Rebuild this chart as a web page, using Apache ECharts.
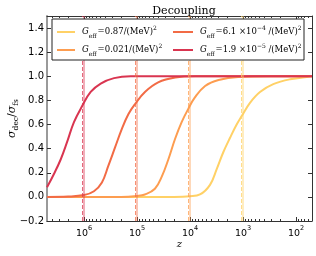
<!DOCTYPE html>
<html>
<head>
<meta charset="utf-8">
<script src="https://cdn.jsdelivr.net/npm/echarts@6/dist/echarts.min.js"></script>
<style>html,body{margin:0;padding:0;background:#fff}#c{width:316px;height:256px}</style>
</head>
<body>
<div id="c"></div>
<script>
// ---- data (z, sigma_dec/sigma_fs) ----
const seriesNames = ['G0.87', 'G0.021', 'G6.1e-4', 'G1.9e-5'];
const seriesColors = ['#ffd166', '#fd9d50', '#f26b45', '#d93550'];
const yellowData = [[5e6,0],[2e4,0],[1e4,0.005],[6.5e3,0.02],[4.2e3,0.10],[3.14e3,0.23],[2.36e3,0.37],[1.76e3,0.49],[1.32e3,0.60],[1.06e3,0.67],[740,0.78],[479,0.87],[269,0.935],[130,0.975],[55,0.998],[50,1.0]];
const orangeData = [[5e6,0],[2e5,0],[1e5,0.008],[7.1e4,0.02],[4.6e4,0.067],[3.4e4,0.17],[2.57e4,0.31],[1.92e4,0.48],[1.44e4,0.62],[1.08e4,0.73],[8.1e3,0.825],[5.2e3,0.92],[2.9e3,0.97],[1.23e3,0.995],[300,1.0],[50,1.0]];
const orangeRedData = [[5e6,0],[2e6,0.003],[1e6,0.015],[6.5e5,0.047],[4.6e5,0.12],[3.5e5,0.255],[2.6e5,0.41],[1.95e5,0.56],[1.46e5,0.685],[1.09e5,0.77],[7.1e4,0.87],[4.0e4,0.95],[1.9e4,0.99],[8e3,1.0],[50,1.0]];
const redData = [[5e6,0.08],[3.7e6,0.19],[2.76e6,0.31],[2.07e6,0.46],[1.55e6,0.62],[1.08e6,0.755],[7.5e5,0.87],[4.85e5,0.94],[2.72e5,0.985],[1.32e5,1.0],[3e4,1.0],[50,1.0]];
const solidLineZ = [1e3, 1e4, 1e5, 1e6];
const dashedLineZ = [1.08e3, 1.08e4, 1.1e5, 1.1e6];
const xTickExponents = [2, 3, 4, 5, 6];
const minorMultipliers = [2, 3, 4, 5, 6, 7, 8, 9];
const minorDecades = [1, 2, 3, 4, 5, 6];
const legendLabels = {
  'G0.87': '{i|G}{sub|eff}{t|=0.87/(MeV)}{sup|2}',
  'G0.021': '{i|G}{sub|eff}{t|=0.021/(MeV)}{sup|2}',
  'G6.1e-4': '{i|G}{sub|eff}{t|=6.1 ×10}{sup|−4}{t| /(MeV)}{sup|2}',
  'G1.9e-5': '{i|G}{sub|eff}{t|=1.9 ×10}{sup|−5}{t| /(MeV)}{sup|2}'
};
const xMin = 50, xMax = 5e6;
const yMin = -0.2, yMax = 1.5, yStep = 0.2;
const titleText = 'Decoupling';

const allData = [yellowData, orangeData, orangeRedData, redData];
const L = Math.log10;
const lxMin = L(xMin), lxMax = L(xMax);
const minorVals = [];
minorDecades.forEach(n => minorMultipliers.forEach(m => {
  const v = L(m * Math.pow(10, n));
  if (v > lxMin && v < lxMax) minorVals.push(v);
}));

const serif = 'DejaVu Serif';
const sans = 'DejaVu Sans';
const richLegend = {
  i: {fontFamily: serif, fontStyle: 'italic', fontSize: 8.5, lineHeight: 14, verticalAlign: 'middle', color: '#000', padding: [0, 0, 0, 2]},
  t: {fontFamily: serif, fontSize: 8.5, lineHeight: 14, verticalAlign: 'middle', color: '#000'},
  sub: {fontFamily: serif, fontSize: 6, lineHeight: 14, verticalAlign: 'bottom', color: '#000', padding: [0, 1, 0, 0]},
  sup: {fontFamily: serif, fontSize: 6, lineHeight: 14, verticalAlign: 'top', color: '#000'}
};

const series = allData.map((d, k) => ({
  name: seriesNames[k],
  type: 'line',
  data: d.map(p => [L(p[0]), p[1]]),
  showSymbol: false,
  symbol: 'none',
  smooth: 0.4,
  lineStyle: {color: seriesColors[k], width: 2},
  itemStyle: {color: seriesColors[k]},
  z: 2,
  markLine: {
    silent: true,
    symbol: 'none',
    label: {show: false},
    animation: false,
    data: [
      {xAxis: L(solidLineZ[k]), lineStyle: {type: 'solid', width: 2, color: seriesColors[k], opacity: 0.4}},
      {xAxis: L(dashedLineZ[k]), lineStyle: {type: [4, 2], width: 1, color: seriesColors[k], opacity: 0.75}}
    ]
  }
}));

function xAxisDef(pos, major, withLabels) {
  return {
    type: 'value', min: lxMin, max: lxMax, inverse: true, position: pos,
    splitLine: {show: false},
    axisLine: {show: major, onZero: false, lineStyle: {color: '#333', width: 1}},
    axisTick: {show: true, inside: true, length: major ? 4 : 2,
      customValues: major ? xTickExponents : minorVals,
      lineStyle: {color: '#333'}},
    axisLabel: withLabels ? {
      margin: 4,
      customValues: xTickExponents,
      formatter: v => '{b|10}{s|' + Math.round(v) + '}',
      rich: {
        b: {fontFamily: sans, fontSize: 9.5, color: '#000', lineHeight: 14, verticalAlign: 'bottom'},
        s: {fontFamily: sans, fontSize: 6.5, color: '#000', lineHeight: 14, verticalAlign: 'top'}
      }
    } : {show: false}
  };
}

const bottomAxis = xAxisDef('bottom', true, true);
bottomAxis.name = '{z|z}';
bottomAxis.nameLocation = 'middle';
bottomAxis.nameGap = 18;
bottomAxis.nameMoveOverlap = false;
bottomAxis.nameTextStyle = {rich: {z: {fontFamily: serif, fontStyle: 'italic', fontSize: 10, color: '#000'}}};

const chart = echarts.init(document.getElementById('c'), null, {renderer: 'canvas'});
chart.setOption({
  animation: false,
  backgroundColor: '#fff',
  title: {
    text: titleText,
    left: 179, top: 1, textAlign: 'center',
    textStyle: {fontFamily: serif, fontWeight: 'normal', fontSize: 11, color: '#000'}
  },
  grid: {left: 47, right: 4, top: 16, bottom: 35, containLabel: false, outerBoundsMode: 'none'},
  xAxis: [
    bottomAxis,
    xAxisDef('top', true, false),
    xAxisDef('bottom', false, false),
    xAxisDef('top', false, false)
  ],
  yAxis: [
    {
      type: 'value', min: yMin, max: yMax, interval: yStep, position: 'left',
      splitLine: {show: false},
      axisLine: {show: true, onZero: false, lineStyle: {color: '#9a9a9a', width: 2}},
      axisTick: {show: true, inside: true, length: 4, lineStyle: {color: '#333'}},
      axisLabel: {
        margin: 3, showMaxLabel: false,
        fontFamily: sans, fontSize: 10, color: '#000',
        formatter: v => (v < 0 ? '\u2212' : '') + Math.abs(v).toFixed(1)
      },
      name: '{s|σ}{sub|dec}{t|/}{s|σ}{sub|fs}',
      nameLocation: 'middle', nameGap: 27, nameRotate: 90, nameMoveOverlap: false,
      nameTextStyle: {rich: {
        s: {fontFamily: serif, fontStyle: 'italic', fontSize: 11, color: '#000', lineHeight: 16, verticalAlign: 'middle'},
        t: {fontFamily: serif, fontSize: 11, color: '#000', lineHeight: 16, verticalAlign: 'middle'},
        sub: {fontFamily: serif, fontSize: 7.5, color: '#000', lineHeight: 16, verticalAlign: 'bottom'}
      }}
    },
    {
      type: 'value', min: yMin, max: yMax, interval: yStep, position: 'right',
      splitLine: {show: false},
      axisLine: {show: true, onZero: false, lineStyle: {color: '#333', width: 1}},
      axisTick: {show: true, inside: true, length: 4, lineStyle: {color: '#333'}},
      axisLabel: {show: false}
    }
  ],
  legend: [
    {
      orient: 'vertical', left: 57, top: 25, itemGap: 4, padding: 0,
      itemWidth: 18, itemHeight: 2, icon: 'rect',
      data: [seriesNames[0], seriesNames[1]],
      formatter: n => legendLabels[n],
      textStyle: {rich: richLegend},
      z: 200, zlevel: 0
    },
    {
      orient: 'vertical', left: 173, top: 25, itemGap: 4, padding: 0,
      itemWidth: 20, itemHeight: 2, icon: 'rect',
      data: [seriesNames[2], seriesNames[3]],
      formatter: n => legendLabels[n],
      textStyle: {rich: richLegend},
      z: 200, zlevel: 0
    }
  ],
  graphic: {
    elements: [{
      type: 'rect', z: 100,
      shape: {x: 52, y: 19, width: 252, height: 41},
      style: {fill: '#fff', stroke: '#222', lineWidth: 1}
    }]
  },
  series: series
});
</script>
</body>
</html>
